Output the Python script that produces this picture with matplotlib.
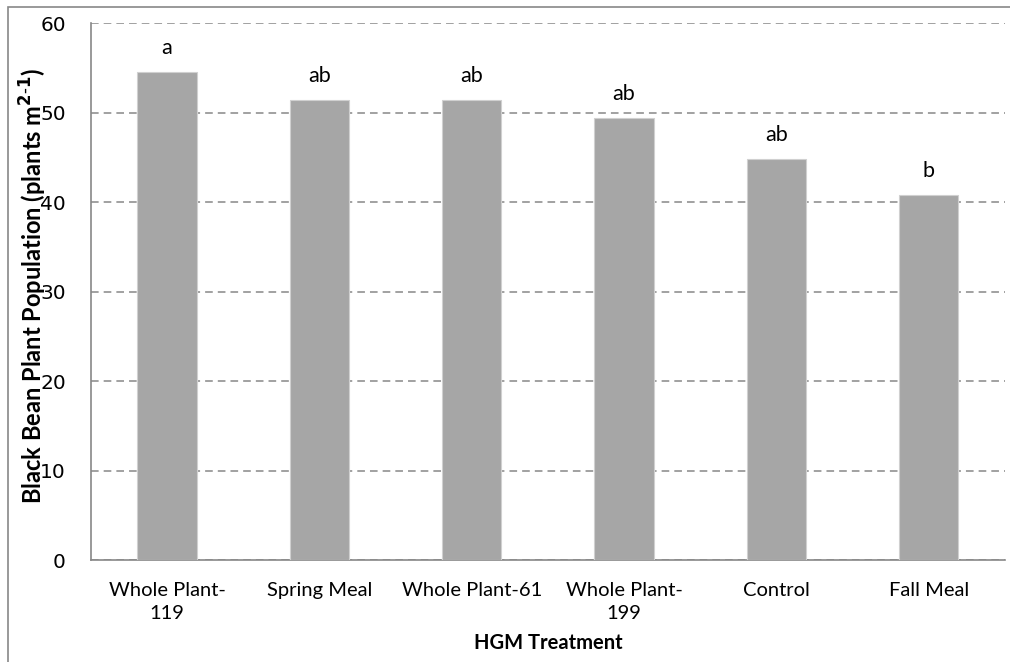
import matplotlib
matplotlib.use("Agg")
import matplotlib.pyplot as plt
from matplotlib.patches import Rectangle

treatments = ["Whole Plant-\n119", "Spring Meal", "Whole Plant-61",
              "Whole Plant-\n199", "Control", "Fall Meal"]
population = [54.5, 51.4, 51.4, 49.4, 44.8, 40.8]
letters = ["a", "ab", "ab", "ab", "ab", "b"]
y_ticks = [0, 10, 20, 30, 40, 50, 60]

plt.rcParams["font.family"] = ["Lato", "DejaVu Sans"]

fig = plt.figure(figsize=(10.1, 6.62), dpi=100)
ax = fig.add_axes([0.090, 0.154, 0.905, 0.811])

# outer chart border
fig.patches.append(Rectangle((0.008, -0.01), 1.0, 0.999, transform=fig.transFigure,
                             fill=False, edgecolor="#888888", linewidth=1.2))

x = range(len(treatments))
ax.bar(x, population, width=0.39, color="#a6a6a6", edgecolor="#d0d0d0",
       linewidth=0.8, zorder=3)

for xi, v, lab in zip(x, population, letters):
    ax.text(xi, v + 1.6, lab, ha="center", va="bottom", fontsize=15.5, color="black")

ax.set_xlim(-0.5, len(treatments) - 0.5)
ax.set_ylim(0, 60)
ax.set_yticks(y_ticks)
ax.set_yticklabels([str(t) for t in y_ticks], family="DejaVu Sans", fontsize=14.5)
ax.set_xticks(list(x))
ax.set_xticklabels(treatments, fontsize=14.5, linespacing=1.4)
ax.tick_params(axis="y", length=0, pad=18)
ax.tick_params(axis="x", length=0, pad=16)

ax.yaxis.grid(True, linestyle=(0, (5, 3.3)), color="#888888", linewidth=1.1, zorder=0)
for s in ["top", "right"]:
    ax.spines[s].set_visible(False)
for s in ["left", "bottom"]:
    ax.spines[s].set_color("#888888")
    ax.spines[s].set_linewidth(1.2)

# label sits over the tick numbers, as in the original
ax.set_ylabel(r"Black Bean Plant Population (plants m$^{\mathbf{2\text{-}1}}$)",
              fontsize=17, fontweight="bold")
ax.yaxis.set_label_coords(-0.046, 0.51)
ax.set_xlabel("HGM Treatment", fontsize=14.5, fontweight="bold", labelpad=8)

fig.savefig("out.png", dpi=100)
